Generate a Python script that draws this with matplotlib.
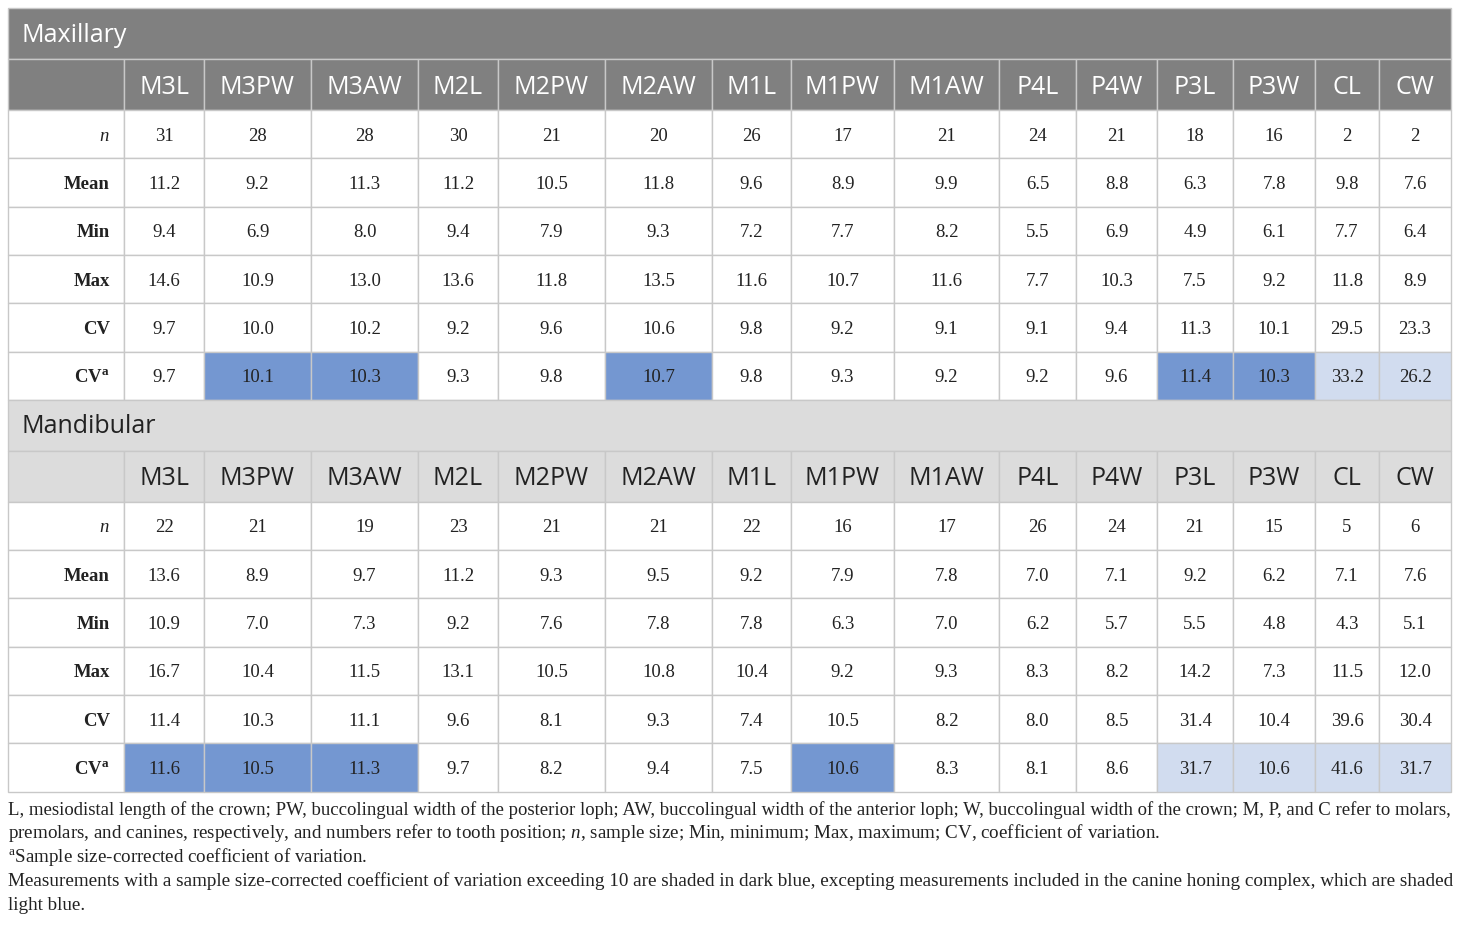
import matplotlib
matplotlib.use("Agg")
import matplotlib.pyplot as plt
from matplotlib.patches import Rectangle

plt.rcParams['mathtext.fontset'] = 'custom'
plt.rcParams['mathtext.rm'] = 'Liberation Serif'
plt.rcParams['mathtext.it'] = 'Liberation Serif:italic'
plt.rcParams['mathtext.bf'] = 'Liberation Serif:bold'

columns = ["M3L", "M3PW", "M3AW", "M2L", "M2PW", "M2AW", "M1L", "M1PW", "M1AW",
           "P4L", "P4W", "P3L", "P3W", "CL", "CW"]
row_labels = [r"$\mathbf{\mathit{n}}$", "Mean", "Min", "Max", "CV", r"$\mathbf{CV}^{\mathbf{a}}$"]

max_n    = ["31", "28", "28", "30", "21", "20", "26", "17", "21", "24", "21", "18", "16", "2", "2"]
max_mean = ["11.2", "9.2", "11.3", "11.2", "10.5", "11.8", "9.6", "8.9", "9.9", "6.5", "8.8", "6.3", "7.8", "9.8", "7.6"]
max_min  = ["9.4", "6.9", "8.0", "9.4", "7.9", "9.3", "7.2", "7.7", "8.2", "5.5", "6.9", "4.9", "6.1", "7.7", "6.4"]
max_max  = ["14.6", "10.9", "13.0", "13.6", "11.8", "13.5", "11.6", "10.7", "11.6", "7.7", "10.3", "7.5", "9.2", "11.8", "8.9"]
max_cv   = ["9.7", "10.0", "10.2", "9.2", "9.6", "10.6", "9.8", "9.2", "9.1", "9.1", "9.4", "11.3", "10.1", "29.5", "23.3"]
max_cva  = ["9.7", "10.1", "10.3", "9.3", "9.8", "10.7", "9.8", "9.3", "9.2", "9.2", "9.6", "11.4", "10.3", "33.2", "26.2"]
# shading: 0 none, 1 dark blue, 2 light blue
max_shade = [0, 1, 1, 0, 0, 1, 0, 0, 0, 0, 0, 1, 1, 2, 2]

man_n    = ["22", "21", "19", "23", "21", "21", "22", "16", "17", "26", "24", "21", "15", "5", "6"]
man_mean = ["13.6", "8.9", "9.7", "11.2", "9.3", "9.5", "9.2", "7.9", "7.8", "7.0", "7.1", "9.2", "6.2", "7.1", "7.6"]
man_min  = ["10.9", "7.0", "7.3", "9.2", "7.6", "7.8", "7.8", "6.3", "7.0", "6.2", "5.7", "5.5", "4.8", "4.3", "5.1"]
man_max  = ["16.7", "10.4", "11.5", "13.1", "10.5", "10.8", "10.4", "9.2", "9.3", "8.3", "8.2", "14.2", "7.3", "11.5", "12.0"]
man_cv   = ["11.4", "10.3", "11.1", "9.6", "8.1", "9.3", "7.4", "10.5", "8.2", "8.0", "8.5", "31.4", "10.4", "39.6", "30.4"]
man_cva  = ["11.6", "10.5", "11.3", "9.7", "8.2", "9.4", "7.5", "10.6", "8.3", "8.1", "8.6", "31.7", "10.6", "41.6", "31.7"]
man_shade = [1, 1, 1, 0, 0, 0, 0, 1, 0, 0, 0, 2, 2, 2, 2]

footnotes = [
    "L, mesiodistal length of the crown; PW, buccolingual width of the posterior loph; AW, buccolingual width of the anterior loph; W, buccolingual width of the crown; M, P, and C refer to molars,",
    r"premolars, and canines, respectively, and numbers refer to tooth position; $\mathit{n}$, sample size; Min, minimum; Max, maximum; CV, coefficient of variation.",
    r"$^{\mathrm{a}}$Sample size-corrected coefficient of variation.",
    "Measurements with a sample size-corrected coefficient of variation exceeding 10 are shaded in dark blue, excepting measurements included in the canine honing complex, which are shaded",
    "light blue.",
]
justified = [True, False, False, True, False]

W, H = 1460, 927
fig = plt.figure(figsize=(W / 100, H / 100), dpi=100)
ax = fig.add_axes([0, 0, 1, 1])
ax.set_xlim(0, W)
ax.set_ylim(H, 0)
ax.axis('off')

col_edges = [8, 124, 204, 311, 418, 498, 605, 712, 791, 894, 999, 1076, 1157, 1233, 1315, 1379, 1451]
DARK_GRAY = "#808080"
LIGHT_GRAY = "#dcdcdc"
DARK_BLUE = "#7497d1"
LIGHT_BLUE = "#d1dcef"
GRID = "#c8c8c8"
TXT = "#222222"

serif = "Liberation Serif"
sans = "Open Sans"


def section(y0, title, band_color, title_color, hdr_color, hdr_text, rows, shade):
    band_h = 51
    hdr_h = 51
    row_h = 48.3
    x0, x1 = col_edges[0], col_edges[-1]
    ax.add_patch(Rectangle((x0, y0), x1 - x0, band_h, facecolor=band_color, edgecolor=GRID, lw=1))
    ax.text(x0 + 14, y0 + 33.5, title, fontsize=18, family=sans, color=title_color,
            ha='left', va='baseline')
    yh = y0 + band_h
    for i in range(len(col_edges) - 1):
        ax.add_patch(Rectangle((col_edges[i], yh), col_edges[i + 1] - col_edges[i], hdr_h,
                               facecolor=hdr_color, edgecolor=GRID, lw=1))
    for j, c in enumerate(columns):
        xc = (col_edges[j + 1] + col_edges[j + 2]) / 2
        ax.text(xc, yh + 34.5, c, fontsize=18, family=sans, color=hdr_text,
                ha='center', va='baseline')
    yr = yh + hdr_h
    for r, (lab, vals) in enumerate(zip(row_labels, rows)):
        ytop = yr + r * row_h
        ax.add_patch(Rectangle((col_edges[0], ytop), col_edges[1] - col_edges[0], row_h,
                               facecolor='white', edgecolor=GRID, lw=1))
        ax.text(col_edges[1] - 14, ytop + row_h / 2 + 6.5, lab, fontsize=13.5, family=serif,
                weight='bold', ha='right', va='baseline', color=TXT)
        for j, v in enumerate(vals):
            fc = 'white'
            if r == len(rows) - 1:
                fc = {0: 'white', 1: DARK_BLUE, 2: LIGHT_BLUE}[shade[j]]
            ax.add_patch(Rectangle((col_edges[j + 1], ytop), col_edges[j + 2] - col_edges[j + 1], row_h,
                                   facecolor=fc, edgecolor=GRID, lw=1))
            xc = (col_edges[j + 1] + col_edges[j + 2]) / 2
            ax.text(xc, ytop + row_h / 2 + 6.5, v, fontsize=13.5, family=serif, ha='center',
                    va='baseline', color=TXT)
    return yr + len(rows) * row_h


y_end = section(8, "Maxillary", DARK_GRAY, "white", DARK_GRAY, "white",
                [max_n, max_mean, max_min, max_max, max_cv, max_cva], max_shade)
y_end = section(y_end, "Mandibular", LIGHT_GRAY, TXT, LIGHT_GRAY, TXT,
                [man_n, man_mean, man_min, man_max, man_cv, man_cva], man_shade)

FOOT_FS = 13.7
foot_base = [815, 838, 862, 886, 910]
left, right = 8, 1452
renderer = fig.canvas.get_renderer()
for fy, line, just in zip(foot_base, footnotes, justified):
    t = ax.text(left, fy, line, fontsize=FOOT_FS, family=serif, ha='left', va='baseline', color=TXT)
    if just:
        w = t.get_window_extent(renderer).width
        t.set_fontsize(FOOT_FS * (right - left) / w)

fig.savefig("out.png", dpi=100)
